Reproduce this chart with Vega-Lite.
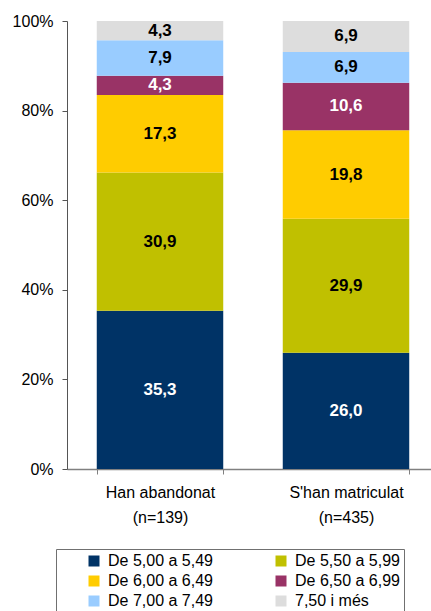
{
  "$schema": "https://vega.github.io/schema/vega-lite/v6.json",
  "width": 372,
  "height": 448,
  "autosize": {"type": "none"},
  "padding": {"left": 67, "top": 21, "right": -8, "bottom": 142},
  "background": "white",
  "config": {
    "locale": {"number": {"decimal": ",", "thousands": ".", "grouping": [3], "currency": ["", " €"]}},
    "font": "Liberation Sans",
    "view": {"stroke": null}
  },
  "data": {
    "values": [
      {"cat": "Han abandonat", "grp": "De 5,00 a 5,49", "ord": 1, "v": 35.3},
      {"cat": "Han abandonat", "grp": "De 5,50 a 5,99", "ord": 2, "v": 30.9},
      {"cat": "Han abandonat", "grp": "De 6,00 a 6,49", "ord": 3, "v": 17.3},
      {"cat": "Han abandonat", "grp": "De 6,50 a 6,99", "ord": 4, "v": 4.3},
      {"cat": "Han abandonat", "grp": "De 7,00 a 7,49", "ord": 5, "v": 7.9},
      {"cat": "Han abandonat", "grp": "7,50 i més", "ord": 6, "v": 4.3},
      {"cat": "S'han matriculat", "grp": "De 5,00 a 5,49", "ord": 1, "v": 26.0},
      {"cat": "S'han matriculat", "grp": "De 5,50 a 5,99", "ord": 2, "v": 29.9},
      {"cat": "S'han matriculat", "grp": "De 6,00 a 6,49", "ord": 3, "v": 19.8},
      {"cat": "S'han matriculat", "grp": "De 6,50 a 6,99", "ord": 4, "v": 10.6},
      {"cat": "S'han matriculat", "grp": "De 7,00 a 7,49", "ord": 5, "v": 6.9},
      {"cat": "S'han matriculat", "grp": "7,50 i més", "ord": 6, "v": 6.9}
    ]
  },
  "encoding": {
    "x": {
      "field": "cat", "type": "nominal", "sort": null,
      "scale": {"paddingInner": 0.32, "paddingOuter": 0.16},
      "axis": {
        "title": null, "labelAngle": 0, "labelFontSize": 16, "labelColor": "black",
        "labelExpr": "datum.label == 'Han abandonat' ? ['Han abandonat', '(n=139)'] : (datum.label == 'S\\'han matriculat' ? ['S\\'han matriculat', '(n=435)'] : '')",
        "labelLineHeight": 25, "labelPadding": 10,
        "tickBand": "extent", "tickSize": 5, "tickColor": "#808080",
        "domainColor": "#808080", "domainWidth": 1.5
      }
    },
    "y": {
      "field": "v", "type": "quantitative", "stack": "normalize",
      "scale": {"domain": [0, 1]},
      "axis": {
        "title": null, "format": ".0%", "values": [0, 0.2, 0.4, 0.6, 0.8, 1],
        "labelFontSize": 16, "labelColor": "black", "labelPadding": 9,
        "tickSize": 5, "tickColor": "#555555", "domainColor": "#555555", "grid": false
      }
    },
    "order": {"field": "ord", "type": "quantitative"}
  },
  "layer": [
    {
      "mark": {"type": "bar"},
      "encoding": {
        "color": {
          "field": "grp", "type": "nominal",
          "sort": ["De 5,00 a 5,49", "De 5,50 a 5,99", "De 6,00 a 6,49", "De 6,50 a 6,99", "De 7,00 a 7,49", "7,50 i més"],
          "scale": {
            "domain": ["De 5,00 a 5,49", "De 5,50 a 5,99", "De 6,00 a 6,49", "De 6,50 a 6,99", "De 7,00 a 7,49", "7,50 i més"],
            "range": ["#003366", "#C0C000", "#FFCC00", "#993366", "#99CCFF", "#DDDDDD"]
          },
          "legend": {
            "orient": "none", "legendX": -11, "legendY": 528,
            "direction": "horizontal", "columns": 2,
            "title": " ", "titleOrient": "left", "titlePadding": 26, "titleFontSize": 16,
            "padding": 4, "strokeColor": "#707070",
            "symbolType": "square", "symbolSize": 121, "symbolStrokeWidth": 0, "symbolOpacity": 1,
            "labelFontSize": 16, "labelColor": "black", "labelOffset": 6, "labelLimit": 300,
            "columnPadding": 60, "rowPadding": 4
          }
        }
      }
    },
    {
      "mark": {"type": "text", "fontWeight": "bold", "fontSize": 17},
      "encoding": {
        "y": {"field": "v", "type": "quantitative", "stack": "normalize", "bandPosition": 0.5},
        "text": {"field": "v", "type": "quantitative", "format": ".1f"},
        "color": {
          "condition": {"test": "datum.grp === 'De 5,00 a 5,49' || datum.grp === 'De 6,50 a 6,99'", "value": "white"},
          "value": "black"
        }
      }
    }
  ]
}
